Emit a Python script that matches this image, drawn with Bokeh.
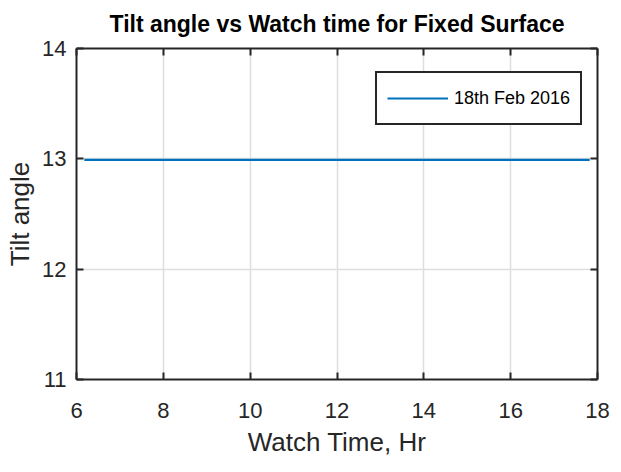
from bokeh.plotting import figure
from bokeh.models import Range1d, LinearAxis, FixedTicker, Legend, LegendItem
from bokeh.embed import file_html
from bokeh.resources import INLINE

# Fixed-surface tilt angle over the day
watch_hours = [6.18, 17.82]
tilt_deg = [12.99, 12.99]
series_label = "18th Feb 2016"

x_ticks = [6, 8, 10, 12, 14, 16, 18]
y_ticks = [11, 12, 13, 14]

SANS = "Liberation Sans"
INK = "#262626"
BLUE = "#0072BD"

p = figure(width=621, height=472, output_backend="svg", toolbar_location=None,
           x_range=Range1d(6, 18), y_range=Range1d(11, 14),
           title="Tilt angle vs Watch time for Fixed Surface")
p.min_border_left = 76
p.min_border_right = 24
p.min_border_top = 46
p.min_border_bottom = 93
p.background_fill_color = "white"
p.border_fill_color = "white"
p.outline_line_color = None

p.title.align = "center"
p.title.vertical_align = "top"
p.title.text_font = SANS
p.title.text_font_size = "23px"
p.title.text_font_style = "bold"
p.title.text_color = "black"
p.title.standoff = 20

def style_axis(ax):
    ax.axis_line_color = INK
    ax.axis_line_width = 2
    ax.major_tick_line_color = INK
    ax.major_tick_line_width = 2
    ax.major_tick_in = 7
    ax.major_tick_out = 0
    ax.minor_tick_line_color = None
    ax.major_label_text_font = SANS
    ax.major_label_text_color = INK

p.xaxis.ticker = FixedTicker(ticks=x_ticks)
p.yaxis.ticker = FixedTicker(ticks=y_ticks)
for ax in p.xaxis + p.yaxis:
    style_axis(ax)
    ax.major_label_text_font_size = "22px"
p.xaxis.major_label_standoff = 23
p.yaxis.major_label_standoff = 10

p.xaxis.axis_label = "Watch Time, Hr"
p.xaxis.axis_label_text_font = SANS
p.xaxis.axis_label_text_font_size = "26px"
p.xaxis.axis_label_text_font_style = "normal"
p.xaxis.axis_label_text_color = INK
p.xaxis.axis_label_standoff = 6

p.yaxis.axis_label = "Tilt angle"
p.yaxis.axis_label_text_font = SANS
p.yaxis.axis_label_text_font_size = "26px"
p.yaxis.axis_label_text_font_style = "normal"
p.yaxis.axis_label_text_color = INK
p.yaxis.axis_label_standoff = 4

# box edges: ticks only, no labels
top_ax = LinearAxis(ticker=FixedTicker(ticks=x_ticks),
                    major_label_overrides={t: "" for t in x_ticks})
right_ax = LinearAxis(ticker=FixedTicker(ticks=y_ticks),
                      major_label_overrides={t: "" for t in y_ticks})
for ax in (top_ax, right_ax):
    style_axis(ax)
    ax.major_label_standoff = 0
    ax.major_label_text_font_size = "2px"
p.add_layout(top_ax, "above")
p.add_layout(right_ax, "right")

p.xgrid.ticker = FixedTicker(ticks=x_ticks)
p.ygrid.ticker = FixedTicker(ticks=y_ticks)
p.grid.grid_line_color = "#dedede"
p.grid.grid_line_width = 1.5

r = p.line(watch_hours, tilt_deg, line_color=BLUE, line_width=2.2)

legend = Legend(items=[LegendItem(label=series_label, renderers=[r])],
                location=(299, 254))
legend.label_text_font = SANS
legend.label_text_font_size = "18px"
legend.label_text_color = "black"
legend.glyph_width = 61
legend.glyph_height = 30
legend.label_height = 30
legend.label_standoff = 6
legend.padding = 10
legend.margin = 0
legend.border_line_color = INK
legend.border_line_alpha = 1.0
legend.border_line_width = 2
legend.background_fill_color = "white"
legend.background_fill_alpha = 1.0
p.add_layout(legend, "center")

open("out.html", "w").write(file_html(p, INLINE))
